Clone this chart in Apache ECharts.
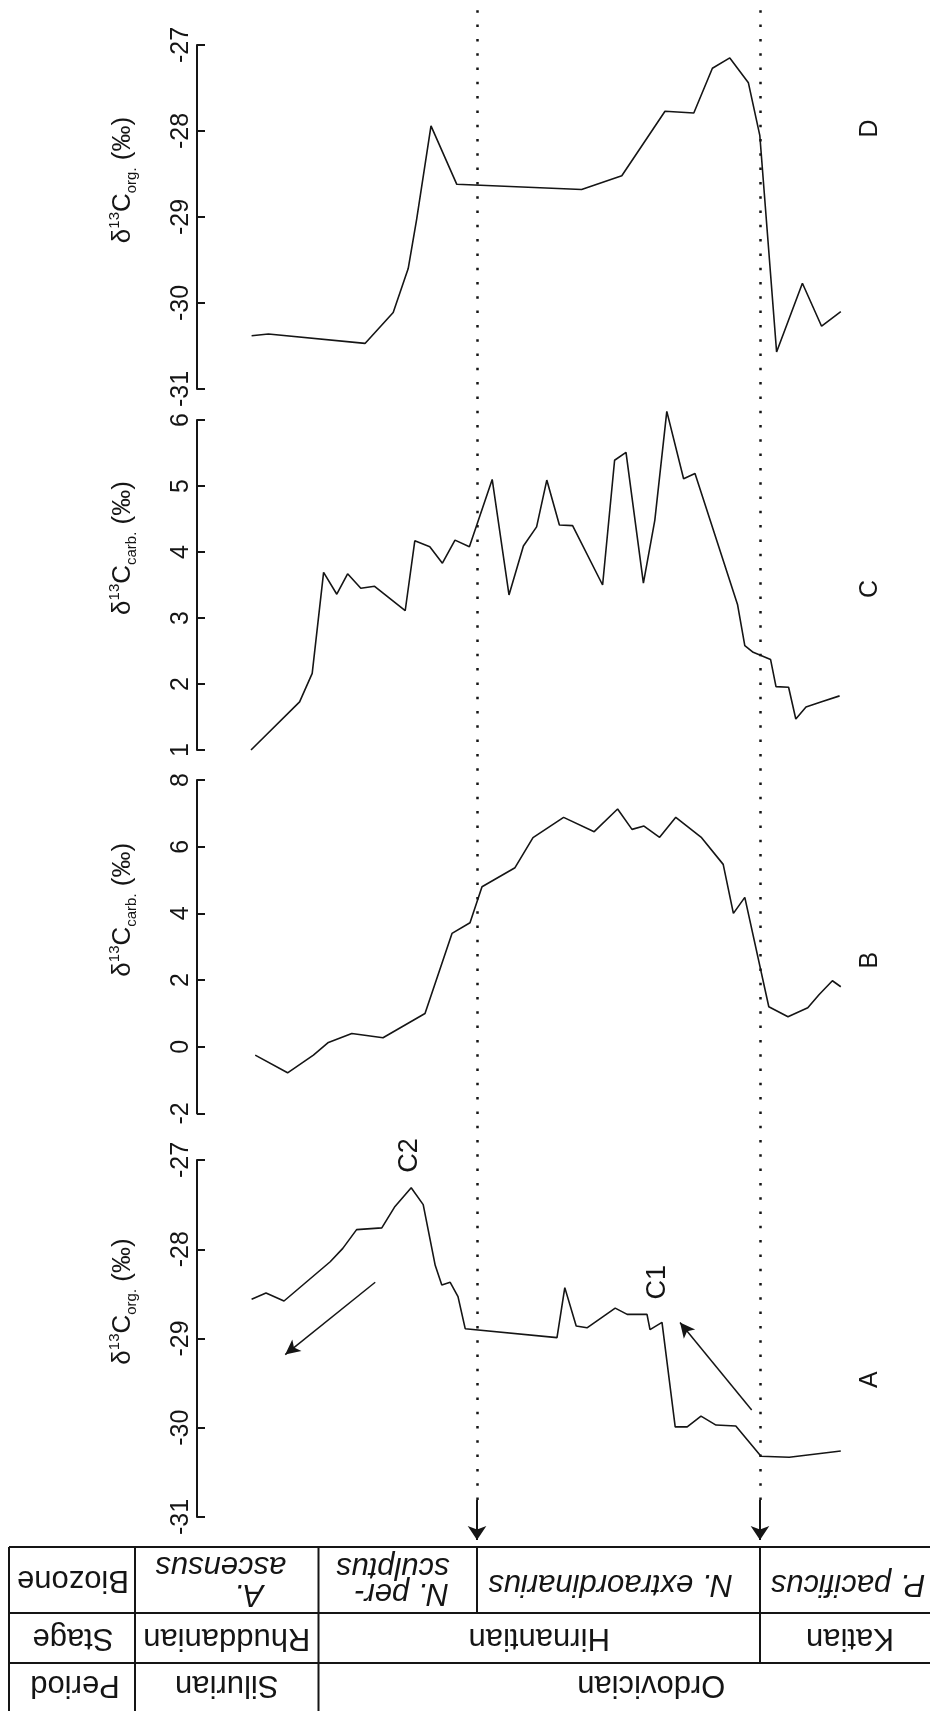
<!DOCTYPE html>
<html>
<head>
<meta charset="utf-8">
<script src="https://cdn.jsdelivr.net/npm/echarts@6/dist/echarts.min.js"></script>
<style>
  html, body { margin: 0; padding: 0; background: #fff; }
  #chart { width: 930px; height: 1711px; }
</style>
</head>
<body>
<div id="chart"></div>
<script>
// Relative stratigraphic position (arbitrary units, top of the section = 0)
// and isotope values of the four sections.
const depthA = [9.1, 11.5, 14.5, 22.2, 24.3, 26.6, 30.8, 33.0, 35.7, 37.7, 39.7, 40.8, 42.2, 43.5, 44.7, 60.0, 61.3, 63.2, 65.0, 69.7, 71.7, 75.0, 75.5, 77.5, 79.7, 81.7, 84.0, 86.5, 89.8, 94.0, 98.7, 107.3];
const orgA   = [-28.56, -28.49, -28.58, -28.14, -27.99, -27.78, -27.76, -27.52, -27.31, -27.50, -28.18, -28.40, -28.37, -28.53, -28.89, -28.99, -28.43, -28.86, -28.88, -28.66, -28.73, -28.73, -28.90, -28.82, -29.99, -29.99, -29.87, -29.97, -29.98, -30.32, -30.33, -30.26];

const depthB = [9.7, 15.1, 19.4, 21.9, 25.8, 31.0, 38.0, 42.5, 45.5, 47.5, 53.0, 56.0, 61.1, 66.2, 70.1, 72.5, 74.5, 77.1, 79.8, 84.1, 87.7, 89.4, 91.3, 95.3, 98.5, 101.8, 103.7, 105.9, 107.3];
const carbB  = [-0.25, -0.78, -0.25, 0.13, 0.40, 0.27, 1.0, 3.40, 3.72, 4.80, 5.37, 6.27, 6.88, 6.45, 7.13, 6.52, 6.62, 6.28, 6.88, 6.27, 5.47, 4.0, 4.48, 1.2, 0.9, 1.17, 1.57, 1.98, 1.80];

const depthC = [9.0, 17.1, 19.2, 21.1, 23.3, 25.1, 27.3, 29.6, 34.7, 36.3, 38.8, 40.9, 43.0, 45.4, 49.2, 52.0, 54.4, 56.6, 58.3, 60.4, 62.6, 67.6, 69.6, 71.5, 74.4, 76.3, 78.3, 81.1, 83.0, 90.1, 91.3, 92.7, 95.6, 96.5, 98.6, 99.8, 101.5, 104.1, 107.1];
const carbC  = [1.0, 1.73, 2.16, 3.69, 3.36, 3.67, 3.45, 3.48, 3.11, 4.17, 4.08, 3.83, 4.18, 4.08, 5.10, 3.35, 4.09, 4.38, 5.09, 4.41, 4.40, 3.5, 5.39, 5.51, 3.53, 4.48, 6.13, 5.11, 5.19, 3.20, 2.58, 2.48, 2.37, 1.96, 1.95, 1.47, 1.65, 1.73, 1.82];

const depthD = [9.1, 11.9, 28.0, 32.7, 35.2, 36.6, 39.0, 43.3, 64.1, 70.8, 78.0, 82.8, 85.9, 88.8, 91.9, 93.8, 96.6, 100.9, 104.1, 107.3];
const orgD   = [-30.38, -30.36, -30.47, -30.11, -29.60, -29.03, -27.94, -28.62, -28.68, -28.52, -27.77, -27.79, -27.27, -27.15, -27.44, -28.05, -30.57, -29.77, -30.27, -30.10];

// Value axes: [min, max, interval]
const axisOrg  = [-31, -27, 1];
const axisCarbB = [-2, 8, 2];
const axisCarbC = [1, 6, 1];

// Stratigraphic boundaries (same depth units)
const baseRhuddanian = 20.25;      // Silurian / Ordovician, Rhuddanian / Hirnantian
const zoneBoundaries = [46.67, 93.83]; // N. persculptus / N. extraordinarius / P. pacificus

// Trend arrows in section A: [fromDepth, fromValue, toDepth, toValue]
const trendArrows = [[29.7, -28.37, 14.7, -29.18], [92.45, -29.80, 80.5, -28.82]];
// Excursion labels in section A: [text, depth, value]
const excursions = [['C2', 35.5, -26.95], ['C1', 76.8, -28.37]];
// Section letters: [text, value] (placed just right of each panel)
const sectionLetters = [['D', -27.97], ['C', 3.44], ['B', 2.6], ['A', -29.46]];

const FONT = '"Liberation Sans", Arial, Helvetica, sans-serif';
const INK = '#151515';
const GRID_LEFT = 197, GRID_W = 660, DEPTH_MAX = 110;

function axisName(sub) {
  return '{g|δ}{sup|13}{g|C}{sub|' + sub + '}{g| (‰)}';
}
const nameStyle = {
  fontFamily: FONT, color: INK, padding: [0, 0, 0, 74],
  rich: {
    g:   { fontFamily: FONT, fontSize: 26, lineHeight: 32, color: INK },
    sup: { fontFamily: FONT, fontSize: 15, lineHeight: 15, verticalAlign: 'top', color: INK },
    sub: { fontFamily: FONT, fontSize: 15, lineHeight: 15, verticalAlign: 'bottom', color: INK }
  }
};

const panels = [
  { top: 45,   height: 344,   ax: axisOrg,   depth: depthD, vals: orgD,  sub: 'org.' },
  { top: 420,  height: 330,   ax: axisCarbC, depth: depthC, vals: carbC, sub: 'carb.' },
  { top: 780,  height: 333.5, ax: axisCarbB, depth: depthB, vals: carbB, sub: 'carb.' },
  { top: 1160, height: 357,   ax: axisOrg,   depth: depthA, vals: orgA,  sub: 'org.' }
];

const grid = [], xAxis = [], yAxis = [], series = [];
panels.forEach(function (p, i) {
  grid.push({ left: GRID_LEFT, width: GRID_W, top: p.top, height: p.height });
  xAxis.push({ gridIndex: i, type: 'value', min: 0, max: DEPTH_MAX, show: false });
  yAxis.push({
    gridIndex: i, type: 'value', min: p.ax[0], max: p.ax[1], interval: p.ax[2],
    axisLine: { show: true, lineStyle: { color: INK, width: 2 } },
    axisTick: { show: true, inside: true, length: 8, lineStyle: { color: INK, width: 2 } },
    axisLabel: { rotate: 90, margin: 3, fontSize: 25, color: INK, fontFamily: FONT },
    splitLine: { show: false },
    name: axisName(p.sub), nameLocation: 'middle', nameRotate: 90, nameGap: 58,
    nameMoveOverlap: false,
    nameTextStyle: nameStyle
  });
  series.push({
    type: 'line', xAxisIndex: i, yAxisIndex: i,
    data: p.depth.map(function (d, k) { return [d, p.vals[k]]; }),
    symbol: 'none', clip: false, silent: true,
    lineStyle: { color: INK, width: 1.6 }
  });
});

// trend arrows on section A
series[3].markLine = {
  silent: true, symbol: ['none', 'arrow'], symbolSize: [11, 15],
  label: { show: false },
  lineStyle: { color: INK, width: 1.5, type: 'solid' },
  data: trendArrows.map(function (a) {
    return [{ coord: [a[0], a[1]] }, { coord: [a[2], a[3]] }];
  })
};

// overlay for the biozone boundaries: dotted part and arrow part
grid.push({ left: GRID_LEFT, width: GRID_W, top: 0, height: 1500 });
xAxis.push({ gridIndex: 4, type: 'value', min: 0, max: DEPTH_MAX, show: false });
yAxis.push({ gridIndex: 4, type: 'value', min: 0, max: 1, show: false });
series.push({
  type: 'line', xAxisIndex: 4, yAxisIndex: 4, data: [], silent: true,
  markLine: {
    silent: true, symbol: ['none', 'none'], label: { show: false },
    lineStyle: { color: INK, width: 2.5, type: [2.5, 11.8] },
    data: zoneBoundaries.map(function (b) { return { xAxis: b }; })
  }
});
grid.push({ left: GRID_LEFT, width: GRID_W, top: 1500, height: 40 });
xAxis.push({ gridIndex: 5, type: 'value', min: 0, max: DEPTH_MAX, show: false });
yAxis.push({ gridIndex: 5, type: 'value', min: 0, max: 1, show: false });
series.push({
  type: 'line', xAxisIndex: 5, yAxisIndex: 5, data: [], silent: true,
  markLine: {
    silent: true, symbol: ['none', 'arrow'], symbolSize: [14, 14], label: { show: false },
    lineStyle: { color: INK, width: 2, type: 'solid' },
    data: zoneBoundaries.map(function (b) { return [{ coord: [b, 1] }, { coord: [b, 0] }]; })
  }
});

const chart = echarts.init(document.getElementById('chart'), null, { renderer: 'canvas' });
chart.setOption({ animation: false, backgroundColor: '#fff', grid: grid, xAxis: xAxis, yAxis: yAxis, series: series });

// ---- annotations and the stratigraphic table ----
const graphic = [];
function rotText(text, x, y, size, rot, italic) {
  graphic.push({
    type: 'text', x: x, y: y, rotation: rot, silent: true,
    style: {
      text: text, fill: INK, align: 'center', verticalAlign: 'middle',
      font: (italic ? 'italic ' : '') + size + 'px ' + FONT
    }
  });
}
function hLine(x1, x2, y) {
  graphic.push({ type: 'line', silent: true, shape: { x1: x1, y1: y, x2: x2, y2: y }, style: { stroke: INK, lineWidth: 2 } });
}
function vLine(x, y1, y2) {
  graphic.push({ type: 'line', silent: true, shape: { x1: x, y1: y1, x2: x, y2: y2 }, style: { stroke: INK, lineWidth: 2 } });
}

excursions.forEach(function (e) {
  const pt = chart.convertToPixel({ gridIndex: 3 }, [e[1], e[2]]);
  rotText(e[0], pt[0], pt[1], 27, Math.PI / 2, false);
});
sectionLetters.forEach(function (s, i) {
  const pt = chart.convertToPixel({ gridIndex: i }, [112.2, s[1]]);
  rotText(s[0], pt[0], pt[1], 25, Math.PI / 2, false);
});

// table columns: label column, Silurian/Ordovician, biozone boundaries
const px = function (d) { return chart.convertToPixel({ xAxisIndex: 4 }, d); };
const xL = 9, xLab = 135, xSil = px(baseRhuddanian), xZ1 = px(zoneBoundaries[0]), xZ2 = px(zoneBoundaries[1]), xR = 940;
const yTop = 1547, yR1 = 1613, yR2 = 1663, yBot = 1711;
hLine(xL, xR, yTop); hLine(xL, xR, yR1); hLine(xL, xR, yR2);
vLine(xL, yTop, yBot); vLine(xLab, yTop, yBot); vLine(xSil, yTop, yBot);
vLine(xZ1, yTop, yR1); vLine(xZ2, yTop, yR2);

const R = Math.PI, TS = 31;
const cBio = (yTop + yR1) / 2, cStage = (yR1 + yR2) / 2, cPer = (yR2 + yBot) / 2 - 2;
rotText('Biozone', (xL + xLab) / 2 + 1, cBio, TS, R, false);
rotText('Stage', (xL + xLab) / 2 + 1, cStage, TS, R, false);
rotText('Period', (xL + xLab) / 2 + 3, cPer, TS, R, false);
rotText('Rhuddanian', (xLab + xSil) / 2, cStage, TS, R, false);
rotText('Hirnantian', (xSil + xZ2) / 2, cStage, TS, R, false);
rotText('Katian', (xZ2 + xR) / 2, cStage, TS, R, false);
rotText('Silurian', (xLab + xSil) / 2, cPer, TS, R, false);
rotText('Ordovician', (xSil + 984) / 2, cPer, TS, R, false);
rotText('ascensus', (xLab + xSil) / 2 - 6, cBio - 14, TS, R, true);
rotText('A.', (xLab + xSil) / 2 + 22, cBio + 14, TS, R, true);
rotText('sculptus', (xSil + xZ1) / 2 - 5, cBio - 13, TS, R, true);
rotText('N. per-', (xSil + xZ1) / 2 + 4, cBio + 13, TS, R, true);
rotText('N. extraordinarius', (xZ1 + xZ2) / 2 - 8, cBio + 4, TS, R, true);
rotText('P. pacificus', 848, cBio + 4, TS, R, true);

chart.setOption({ graphic: graphic });
</script>
</body>
</html>
